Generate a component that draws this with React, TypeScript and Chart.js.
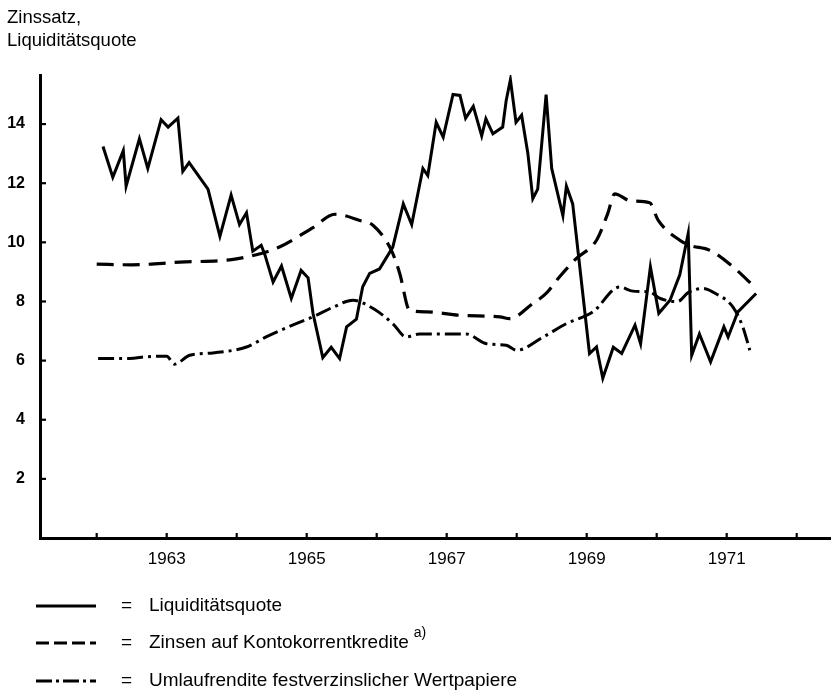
import React, { useEffect, useRef } from 'react';
import { Chart, registerables } from 'chart.js';

Chart.register(...registerables);

// ---- axis / label data ----
const titleLines = ['Zinssatz,', 'Liquiditätsquote'];
const yearTicks = [1962, 1963, 1964, 1965, 1966, 1967, 1968, 1969, 1970, 1971, 1972];
const labeledYears = [1963, 1965, 1967, 1969, 1971];
const yTickValues = [2, 4, 6, 8, 10, 12, 14];
const xMin = 1961.19;
const xMax = 1972.49;
const yMin = 0;
const yMax = 15.66;

const seriesLabels = [
  'Liquiditätsquote',
  'Zinsen auf Kontokorrentkredite',
  'Umlaufrendite festverzinslicher Wertpapiere',
];
const footnoteMark = 'a)';

// ---- series: Liquiditätsquote ----
const liquidYears = [
  1962.09, 1962.23, 1962.38, 1962.42, 1962.61, 1962.73, 1962.92, 1963.02, 1963.16, 1963.23,
  1963.32, 1963.59, 1963.76, 1963.92, 1964.04, 1964.14, 1964.23, 1964.35, 1964.40, 1964.52,
  1964.64, 1964.78, 1964.92, 1965.02, 1965.09, 1965.23, 1965.35, 1965.47, 1965.57, 1965.71,
  1965.80, 1965.90, 1966.04, 1966.23, 1966.38, 1966.50, 1966.66, 1966.73, 1966.85, 1966.95,
  1967.09, 1967.19, 1967.27, 1967.38, 1967.50, 1967.56, 1967.66, 1967.80, 1967.85, 1967.91,
  1967.99, 1968.07, 1968.16, 1968.23, 1968.30, 1968.42, 1968.50, 1968.66, 1968.71, 1968.80,
  1969.04, 1969.14, 1969.23, 1969.38, 1969.50, 1969.69, 1969.77, 1969.91, 1970.03, 1970.19,
  1970.33, 1970.45, 1970.50, 1970.61, 1970.77, 1970.96, 1971.02, 1971.16, 1971.42,
];
const liquidValues = [
  13.24, 12.2, 13.1, 11.9, 13.5, 12.5, 14.15, 13.9, 14.2, 12.4,
  12.7, 11.8, 10.2, 11.6, 10.6, 11.0, 9.7, 9.9, 9.6, 8.66,
  9.2, 8.1, 9.05, 8.8, 7.6, 6.1, 6.45, 6.07, 7.14, 7.4,
  8.5, 8.95, 9.1, 9.84, 11.3, 10.6, 12.5, 12.26, 14.06, 13.56,
  15.0, 14.97, 14.2, 14.6, 13.6, 14.18, 13.67, 13.9, 14.8, 15.5,
  14.06, 14.3, 13.0, 11.48, 11.8, 15.0, 12.5, 10.9, 11.9, 11.3,
  6.24, 6.46, 5.4, 6.45, 6.24, 7.2, 6.57, 9.17, 7.6, 8.04,
  8.9, 10.3, 6.18, 6.9, 5.96, 7.14, 6.8, 7.65, 8.27,
];

// ---- series: Zinsen auf Kontokorrentkredite ----
const creditYears = [
  1962.0, 1962.5, 1963.19, 1963.9, 1964.28, 1964.61, 1965.09, 1965.40, 1965.76, 1965.95,
  1966.21, 1966.33, 1966.47, 1966.71, 1967.19, 1967.76, 1967.90, 1968.23, 1968.42, 1968.61,
  1968.85, 1969.14, 1969.30, 1969.40, 1969.63, 1969.90, 1970.02, 1970.33, 1970.47, 1970.76,
  1971.09, 1971.42,
];
const creditValues = [
  9.26, 9.24, 9.33, 9.41, 9.58, 9.84, 10.5, 10.95, 10.74, 10.57,
  9.73, 8.94, 7.7, 7.65, 7.53, 7.48, 7.42, 7.93, 8.27, 8.83,
  9.45, 10.07, 10.97, 11.64, 11.4, 11.34, 10.75, 10.07, 9.9, 9.73,
  9.17, 8.44,
];

// ---- series: Umlaufrendite festverzinslicher Wertpapiere ----
const bondYears = [
  1962.02, 1962.47, 1962.71, 1963.0, 1963.11, 1963.33, 1963.66, 1964.14, 1964.42, 1964.85,
  1965.09, 1965.38, 1965.66, 1965.95, 1966.23, 1966.42, 1966.61, 1966.95, 1967.28, 1967.57,
  1967.85, 1968.0, 1968.38, 1968.71, 1969.09, 1969.47, 1969.66, 1969.90, 1970.05, 1970.30,
  1970.45, 1970.66, 1970.84, 1971.09, 1971.23, 1971.33,
];
const bondValues = [
  6.07, 6.07, 6.13, 6.15, 5.88, 6.18, 6.26, 6.46, 6.8, 7.25,
  7.48, 7.81, 8.04, 7.76, 7.25, 6.8, 6.9, 6.9, 6.9, 6.57,
  6.52, 6.35, 6.8, 7.25, 7.65, 8.49, 8.35, 8.32, 8.1, 8.0,
  8.3, 8.44, 8.27, 7.81, 7.14, 6.35,
];

const FONT = '"Liberation Sans", Arial, sans-serif';

const toPoints = (xs: number[], ys: number[]) => xs.map((x, i) => ({ x, y: ys[i] }));

const legendDash = [[], [13, 5], [16, 4, 3, 4]];

const decorPlugin = {
  id: 'decor',
  afterDraw(chart: any) {
    const ctx = chart.ctx as CanvasRenderingContext2D;
    const xs = chart.scales.x;
    const ys = chart.scales.y;
    const area = chart.chartArea;
    ctx.save();
    ctx.strokeStyle = '#000';
    ctx.fillStyle = '#000';
    ctx.lineWidth = 2.2;
    ctx.setLineDash([]);
    // inward tick marks on y axis
    ys.ticks.forEach((t: any) => {
      const py = ys.getPixelForValue(t.value);
      ctx.beginPath();
      ctx.moveTo(area.left, py);
      ctx.lineTo(area.left + 6, py);
      ctx.stroke();
    });
    // inward tick marks on x axis
    xs.ticks.forEach((t: any) => {
      const px = xs.getPixelForValue(t.value);
      ctx.beginPath();
      ctx.moveTo(px, area.bottom);
      ctx.lineTo(px, area.bottom - 5);
      ctx.stroke();
    });
    // title
    ctx.font = `18.5px ${FONT}`;
    ctx.textAlign = 'left';
    ctx.textBaseline = 'alphabetic';
    titleLines.forEach((line, i) => ctx.fillText(line, 7, 23 + i * 23));

    // legend
    const rowY = [606, 643, 681];
    chart.data.datasets.forEach((ds: any, i: number) => {
      const y = rowY[i];
      ctx.lineWidth = 3;
      ctx.setLineDash(legendDash[i]);
      ctx.beginPath();
      ctx.moveTo(36, y);
      ctx.lineTo(96, y);
      ctx.stroke();
      ctx.setLineDash([]);
      ctx.font = `19px ${FONT}`;
      ctx.textBaseline = 'middle';
      ctx.fillText('=', 121, y);
      ctx.fillText(ds.label, 149, y);
      if (i === 1) {
        const w = ctx.measureText(ds.label).width;
        ctx.font = `14px ${FONT}`;
        ctx.fillText(footnoteMark, 149 + w + 5, y - 10);
      }
    });
    ctx.restore();
  },
};

export default function App() {
  const canvasRef = useRef<HTMLCanvasElement | null>(null);

  useEffect(() => {
    document.body.style.margin = '0';
    const canvas = canvasRef.current;
    if (!canvas) return;
    const chart = new Chart(canvas, {
      type: 'line',
      data: {
        datasets: [
          {
            label: seriesLabels[0],
            data: toPoints(liquidYears, liquidValues),
            borderColor: '#000',
            borderWidth: 3,
            borderDash: [],
            pointRadius: 0,
            tension: 0,
            fill: false,
          },
          {
            label: seriesLabels[1],
            data: toPoints(creditYears, creditValues),
            borderColor: '#000',
            borderWidth: 3.2,
            borderDash: [17, 9],
            pointRadius: 0,
            cubicInterpolationMode: 'monotone',
            fill: false,
          },
          {
            label: seriesLabels[2],
            data: toPoints(bondYears, bondValues),
            borderColor: '#000',
            borderWidth: 3,
            borderDash: [16, 5, 3, 5],
            pointRadius: 0,
            cubicInterpolationMode: 'monotone',
            fill: false,
          },
        ],
      },
      options: {
        responsive: false,
        animation: false,
        devicePixelRatio: 1,
        layout: { padding: { top: 75, left: 0, right: 0, bottom: 0 } },
        plugins: {
          legend: { display: false },
          tooltip: { enabled: false },
          title: { display: false },
        },
        scales: {
          x: {
            type: 'linear',
            min: xMin,
            max: xMax,
            afterBuildTicks: (scale: any) => {
              scale.ticks = yearTicks.map((v) => ({ value: v }));
            },
            afterFit: (scale: any) => {
              scale.height = 160;
            },
            grid: { display: false, drawTicks: false },
            border: { display: true, color: '#000', width: 3 },
            ticks: {
              autoSkip: false,
              maxRotation: 0,
              padding: 11,
              color: '#000',
              font: { family: FONT, size: 17 },
              callback: (v: any) => (labeledYears.includes(Number(v)) ? String(v) : ''),
            },
          },
          y: {
            type: 'linear',
            min: yMin,
            max: yMax,
            afterBuildTicks: (scale: any) => {
              scale.ticks = yTickValues.map((v) => ({ value: v }));
            },
            afterFit: (scale: any) => {
              scale.width = 40;
            },
            grid: { display: false, drawTicks: false },
            border: { display: true, color: '#000', width: 3 },
            ticks: {
              padding: 15,
              color: '#000',
              font: { family: FONT, size: 16, weight: 'bold' },
              callback: (v: any) => String(v),
            },
          },
        },
      },
      plugins: [decorPlugin],
    });
    return () => chart.destroy();
  }, []);

  return (
    <div style={{ width: 831, height: 698, background: '#fff' }}>
      <canvas ref={canvasRef} width={831} height={698} style={{ display: 'block', width: 831, height: 698 }} />
    </div>
  );
}
